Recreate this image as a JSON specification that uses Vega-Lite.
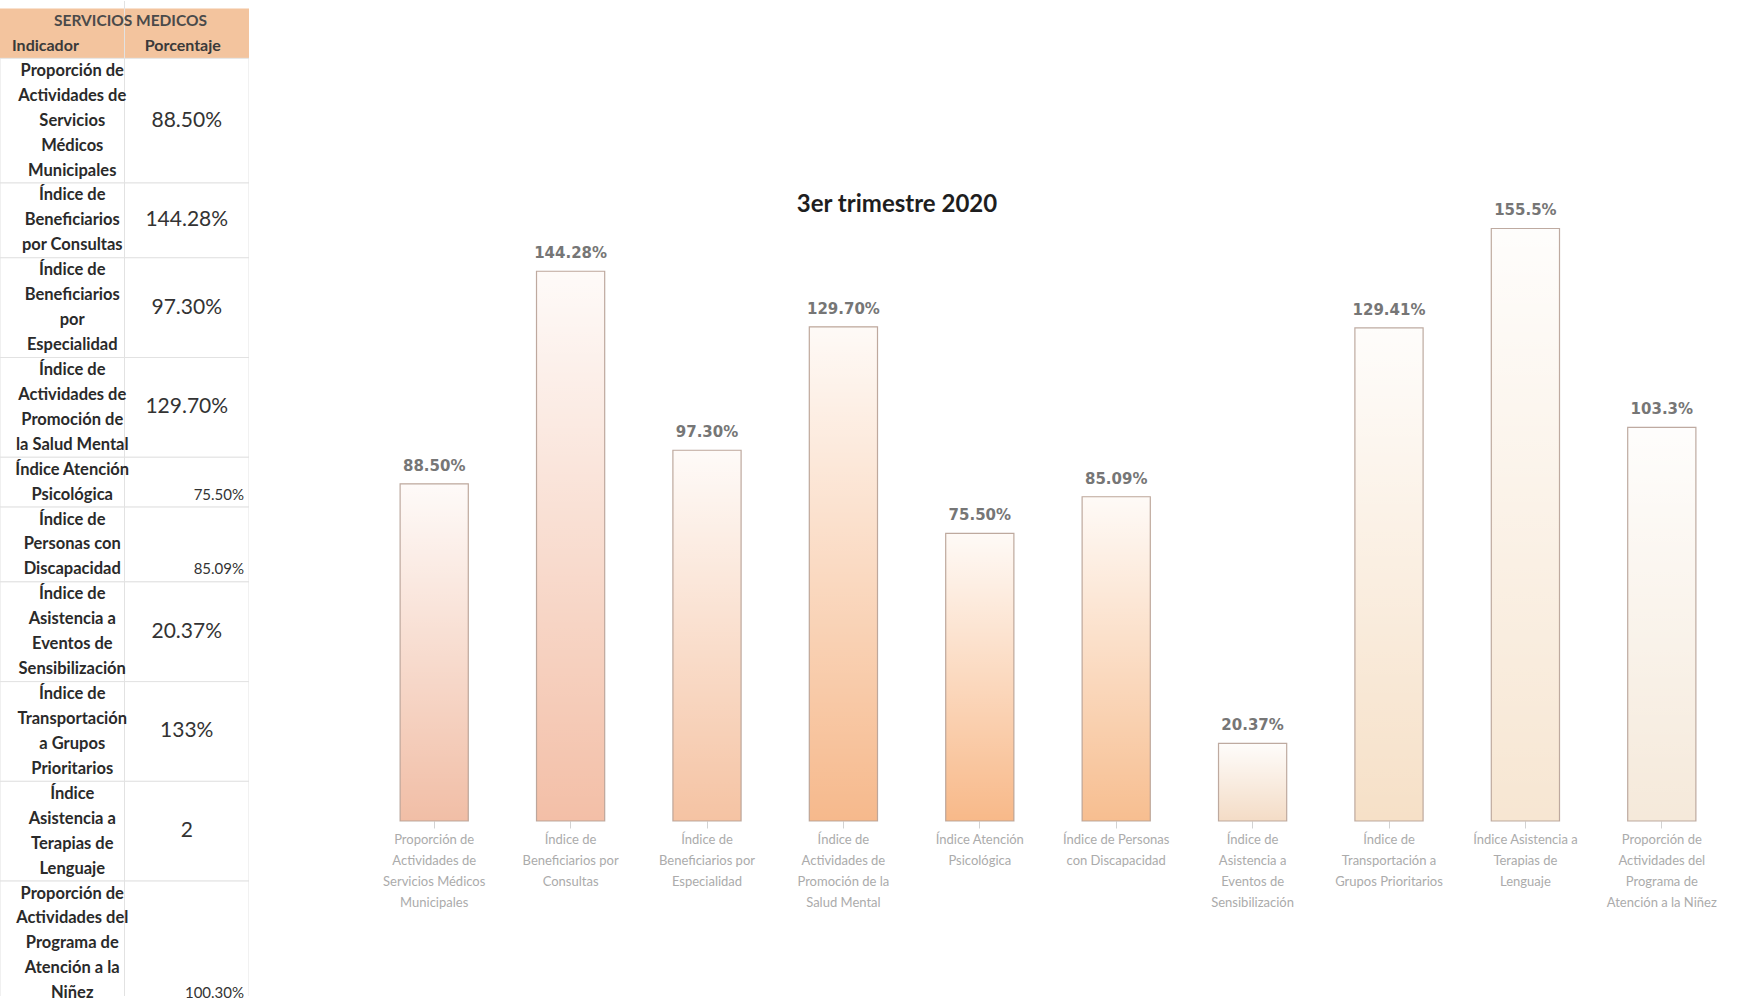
{
  "$schema": "https://vega.github.io/schema/vega-lite/v6.json",
  "background": "white",
  "padding": 0,
  "spacing": 117,
  "config": {"view": {"stroke": null}, "font": "Lato"},
  "datasets": {
    "tabla": [
      {"orden": 1, "indicador": "Proporción de\nActividades de\nServicios\nMédicos\nMunicipales", "porcentaje": "88.50%"},
      {"orden": 2, "indicador": "Índice de\nBeneficiarios\npor Consultas", "porcentaje": "144.28%"},
      {"orden": 3, "indicador": "Índice de\nBeneficiarios\npor\nEspecialidad", "porcentaje": "97.30%"},
      {"orden": 4, "indicador": "Índice de\nActividades de\nPromoción de\nla Salud Mental", "porcentaje": "129.70%"},
      {"orden": 5, "indicador": "Índice Atención\nPsicológica", "porcentaje": "75.50%"},
      {"orden": 6, "indicador": "Índice de\nPersonas con\nDiscapacidad", "porcentaje": "85.09%"},
      {"orden": 7, "indicador": "Índice de\nAsistencia a\nEventos de\nSensibilización", "porcentaje": "20.37%"},
      {"orden": 8, "indicador": "Índice de\nTransportación\na Grupos\nPrioritarios", "porcentaje": "133%"},
      {"orden": 9, "indicador": "Índice\nAsistencia a\nTerapias de\nLenguaje", "porcentaje": "2"},
      {"orden": 10, "indicador": "Proporción de\nActividades del\nPrograma de\nAtención a la\nNiñez", "porcentaje": "100.30%"}
    ],
    "barras": [
      {"indicador": "Proporción de\nActividades de\nServicios Médicos\nMunicipales", "valor": 88.50, "etiqueta": "88.50%"},
      {"indicador": "Índice de\nBeneficiarios por\nConsultas", "valor": 144.28, "etiqueta": "144.28%"},
      {"indicador": "Índice de\nBeneficiarios por\nEspecialidad", "valor": 97.30, "etiqueta": "97.30%"},
      {"indicador": "Índice de\nActividades de\nPromoción de la\nSalud Mental", "valor": 129.70, "etiqueta": "129.70%"},
      {"indicador": "Índice Atención\nPsicológica", "valor": 75.50, "etiqueta": "75.50%"},
      {"indicador": "Índice de Personas\ncon Discapacidad", "valor": 85.09, "etiqueta": "85.09%"},
      {"indicador": "Índice de\nAsistencia a\nEventos de\nSensibilización", "valor": 20.37, "etiqueta": "20.37%"},
      {"indicador": "Índice de\nTransportación a\nGrupos Prioritarios", "valor": 129.41, "etiqueta": "129.41%"},
      {"indicador": "Índice Asistencia a\nTerapias de\nLenguaje", "valor": 155.5, "etiqueta": "155.5%"},
      {"indicador": "Proporción de\nActividades del\nPrograma de\nAtención a la Niñez", "valor": 103.3, "etiqueta": "103.3%"}
    ]
  },
  "hconcat": [
    {
      "width": 249,
      "height": 995,
      "data": {"name": "tabla"},
      "transform": [
        {"calculate": "length(split(datum.indicador, '\\n'))", "as": "lineas"},
        {"window": [{"op": "sum", "field": "lineas", "as": "acum"}], "sort": [{"field": "orden"}], "frame": [null, 0]},
        {"calculate": "datum.acum - datum.lineas + 2", "as": "inicio"},
        {"calculate": "datum.inicio - 0.5", "as": "y0"},
        {"calculate": "datum.acum + 1.5", "as": "y1"},
        {"calculate": "datum.inicio + (datum.lineas - 1) / 2", "as": "ymid"},
        {"calculate": "datum.acum + 1", "as": "yult"}
      ],
      "layer": [
        {
          "data": {"values": [{"parte": "encabezado"}]},
          "transform": [],
          "mark": {"type": "rect", "fill": "#f3c49e", "clip": true},
          "encoding": {
            "y": {"datum": -0.5, "type": "quantitative", "scale": {"domain": [-0.8, 39.11], "reverse": true, "nice": false, "zero": false}, "axis": null},
            "y2": {"datum": 1.5}
          }
        },
        {
          "mark": {"type": "rect", "fill": "white", "stroke": "#e2e2e2", "strokeWidth": 1, "clip": true},
          "encoding": {
            "y": {"field": "y0", "type": "quantitative"},
            "y2": {"field": "y1"}
          }
        },
        {
          "data": {"values": [{"parte": "divisor"}]},
          "transform": [],
          "mark": {"type": "rule", "color": "#e2e2e2", "strokeWidth": 1},
          "encoding": {
            "x": {"datum": "Porcentaje", "type": "nominal", "bandPosition": 0, "scale": {"domain": ["Indicador", "Porcentaje"], "paddingInner": 0, "paddingOuter": 0}, "axis": null}
          }
        },
        {
          "data": {"values": [{"texto": "SERVICIOS MEDICOS"}]},
          "transform": [],
          "mark": {"type": "text", "font": "Lato", "fontWeight": "bold", "fontSize": 15.5, "color": "#4a4a4a", "baseline": "middle", "dx": 6},
          "encoding": {
            "text": {"field": "texto"},
            "y": {"datum": 0, "type": "quantitative"}
          }
        },
        {
          "data": {"values": [{"texto": "Indicador"}]},
          "transform": [],
          "mark": {"type": "text", "font": "Lato", "fontWeight": "bold", "fontSize": 16, "color": "#3a3a3a", "baseline": "middle", "align": "left", "dx": 12},
          "encoding": {
            "text": {"field": "texto"},
            "x": {"datum": "Indicador", "type": "nominal", "bandPosition": 0},
            "y": {"datum": 1, "type": "quantitative"}
          }
        },
        {
          "data": {"values": [{"texto": "Porcentaje"}]},
          "transform": [],
          "mark": {"type": "text", "font": "Lato", "fontWeight": "bold", "fontSize": 16, "color": "#3a3a3a", "baseline": "middle", "dx": -4},
          "encoding": {
            "text": {"field": "texto"},
            "x": {"datum": "Porcentaje", "type": "nominal"},
            "y": {"datum": 1, "type": "quantitative"}
          }
        },
        {
          "mark": {"type": "text", "font": "Lato", "fontWeight": "bold", "fontSize": 16.5, "color": "#2a2a2a", "baseline": "middle", "lineBreak": "\n", "lineHeight": 24.93, "dx": 10},
          "encoding": {
            "text": {"field": "indicador"},
            "x": {"datum": "Indicador", "type": "nominal"},
            "y": {"field": "inicio", "type": "quantitative"}
          }
        },
        {
          "transform": [{"filter": "indexof(['75.50%', '85.09%', '100.30%'], datum.porcentaje) < 0"}],
          "mark": {"type": "text", "font": "Lato", "fontSize": 21, "color": "#333333", "baseline": "middle"},
          "encoding": {
            "text": {"field": "porcentaje"},
            "x": {"datum": "Porcentaje", "type": "nominal"},
            "y": {"field": "ymid", "type": "quantitative"}
          }
        },
        {
          "transform": [{"filter": "indexof(['75.50%', '85.09%', '100.30%'], datum.porcentaje) >= 0"}],
          "mark": {"type": "text", "font": "Lato", "fontSize": 15, "color": "#333333", "baseline": "middle", "align": "right", "dx": -5},
          "encoding": {
            "text": {"field": "porcentaje"},
            "x": {"datum": "Porcentaje", "type": "nominal", "bandPosition": 1},
            "y": {"field": "yult", "type": "quantitative"}
          }
        }
      ]
    },
    {
      "width": 1364,
      "height": 820,
      "data": {"name": "barras"},
      "title": {"text": "3er trimestre  2020", "offset": -216, "dx": -151, "anchor": "middle", "font": "Lato", "fontSize": 24, "fontWeight": "bold", "color": "#1e1e1e"},
      "encoding": {
        "x": {
          "field": "indicador", "type": "nominal", "sort": null,
          "scale": {"paddingInner": 0.5, "paddingOuter": 0.25},
          "axis": {
            "title": null, "labelAngle": 0, "domain": false, "ticks": true, "tickSize": 7, "tickColor": "#d2d2d2",
            "labelExpr": "split(datum.label, '\\n')", "labelFont": "Lato", "labelFontSize": 13, "labelColor": "#ababab",
            "labelLineHeight": 21, "labelPadding": 5, "labelLimit": 0, "labelBaseline": "top"
          }
        },
        "y": {"field": "valor", "type": "quantitative", "scale": {"domain": [0, 215.2], "nice": false}, "axis": null}
      },
      "layer": [
        {
          "mark": {"type": "bar"},
          "encoding": {
            "color": {
              "field": "indicador", "type": "nominal", "sort": null, "legend": null,
              "scale": {"range": ["#f1bea6", "#f3bfa7", "#f5c3a3", "#f6b98c", "#f8b989", "#f7be90", "#f4dcc6", "#f6e0c7", "#f7e6d2", "#f5e9da"]}
            }
          }
        },
        {
          "mark": {
            "type": "bar",
            "fill": {"gradient": "linear", "x1": 0, "y1": 0, "x2": 0, "y2": 1, "stops": [{"offset": 0, "color": "rgba(255,255,255,0.93)"}, {"offset": 1, "color": "rgba(255,255,255,0)"}]},
            "stroke": "#b39c92", "strokeWidth": 1.2, "strokeOpacity": 0.85
          }
        },
        {
          "mark": {"type": "text", "baseline": "bottom", "dy": -10, "font": "DejaVu Sans", "fontWeight": "bold", "fontSize": 15, "color": "#767676"},
          "encoding": {"text": {"field": "etiqueta"}}
        }
      ]
    }
  ]
}
